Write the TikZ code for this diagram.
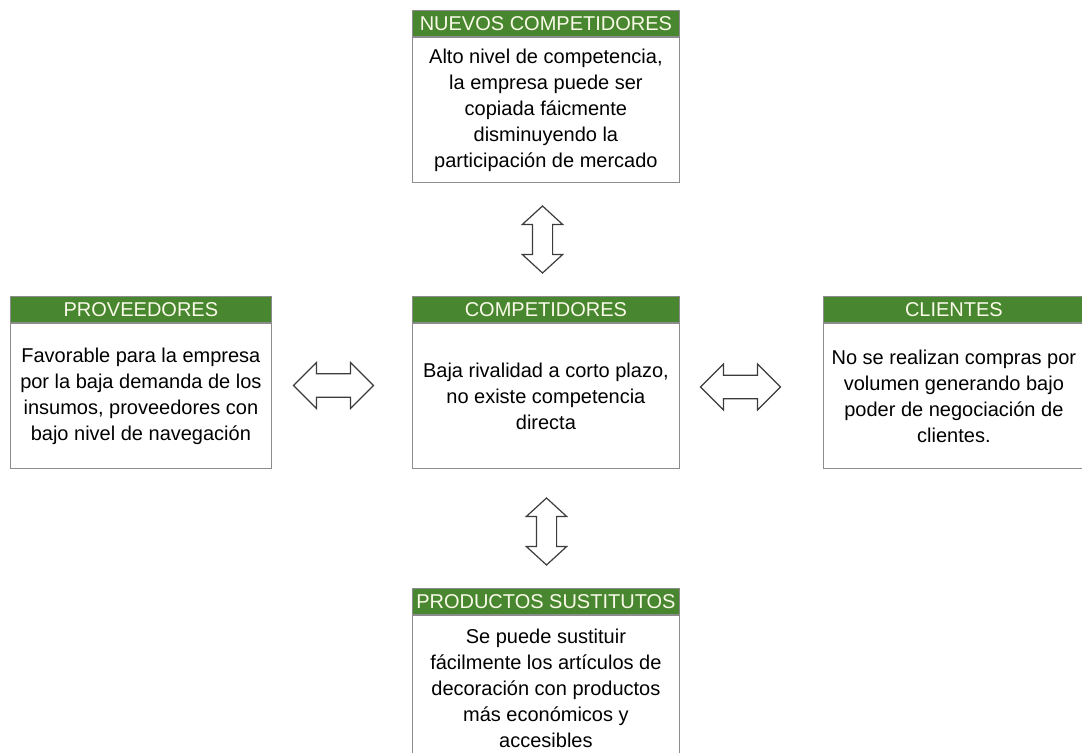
\documentclass[tikz,border=0pt]{standalone}
\usepackage{fontspec}
\setmainfont{Liberation Sans}
\usepackage{tikz}
\usetikzlibrary{positioning}
\usetikzlibrary{shapes.arrows}

\definecolor{hdrgreen}{RGB}{72,134,47}
\definecolor{hdrtext}{RGB}{250,250,232}
\definecolor{boxgray}{RGB}{140,140,140}
\definecolor{arrowgray}{RGB}{60,60,60}

\tikzset{
  body/.style={draw=boxgray, fill=white, align=center, inner sep=2pt, anchor=north west,
    minimum height=72.5pt, font=\fontsize{10}{13}\selectfont},
  head/.style={draw=boxgray, fill=hdrgreen, text=hdrtext, inner sep=0pt,
    minimum height=13pt, font=\fontsize{10}{12}\selectfont},
  dbl/.style={draw=arrowgray, line width=0.6pt, fill=white, double arrow, minimum width=0pt},
  dblv/.style={dbl, shape border rotate=90, minimum height=33.5pt, inner sep=4.75pt,
    double arrow head extend=5pt, double arrow tip angle=95},
  dblh/.style={dbl, minimum height=40pt, inner xsep=0pt, inner ysep=5.6pt,
    double arrow head extend=5.6pt, double arrow tip angle=90},
}

\begin{document}
\begin{tikzpicture}[x=0.5pt, y=-0.5pt]
            \useasboundingbox (0,0) rectangle (1082,753);

            % cajas
            \node[body, minimum width=133.5pt] (nuevos) at (412,37)
              {Alto nivel de competencia,\\ la empresa puede ser\\ copiada fáicmente\\ disminuyendo la\\ participación de mercado};
            \node[head, minimum width=133.5pt, above=0pt of nuevos] (nuevoshd) {NUEVOS COMPETIDORES};

            \node[body, minimum width=130.5pt] (prov) at (10,323)
              {Favorable para la empresa\\ por la baja demanda de los\\ insumos, proveedores con\\ bajo nivel de navegación};
            \node[head, minimum width=130.5pt, above=0pt of prov] (provhd) {PROVEEDORES};

            \node[body, minimum width=133.5pt] (comp) at (412,323)
              {Baja rivalidad a corto plazo,\\ no existe competencia\\ directa};
            \node[head, minimum width=133.5pt, above=0pt of comp] (comphd) {COMPETIDORES};

            \node[body, minimum width=130.5pt] (cli) at (823,323)
              {No se realizan compras por\\ volumen generando bajo\\ poder de negociación de\\ clientes.};
            \node[head, minimum width=130.5pt, above=0pt of cli] (clihd) {CLIENTES};

            \node[body, minimum width=133.5pt] (sust) at (412,615)
              {Se puede sustituir\\ fácilmente los artículos de\\ decoración con productos\\ más económicos y\\ accesibles};
            \node[head, minimum width=133.5pt, above=0pt of sust] (susthd) {PRODUCTOS SUSTITUTOS};

            % flechas dobles
            \node[dblv] (arrtop) at (542.5,239.5) {};
            \node[dblv] (arrbot) at (546.5,531.5) {};
            \node[dblh] (arrleft) at (333.5,385.5) {};
            \node[dblh] (arrright) at (740.5,387) {};
\end{tikzpicture}
\end{document}
